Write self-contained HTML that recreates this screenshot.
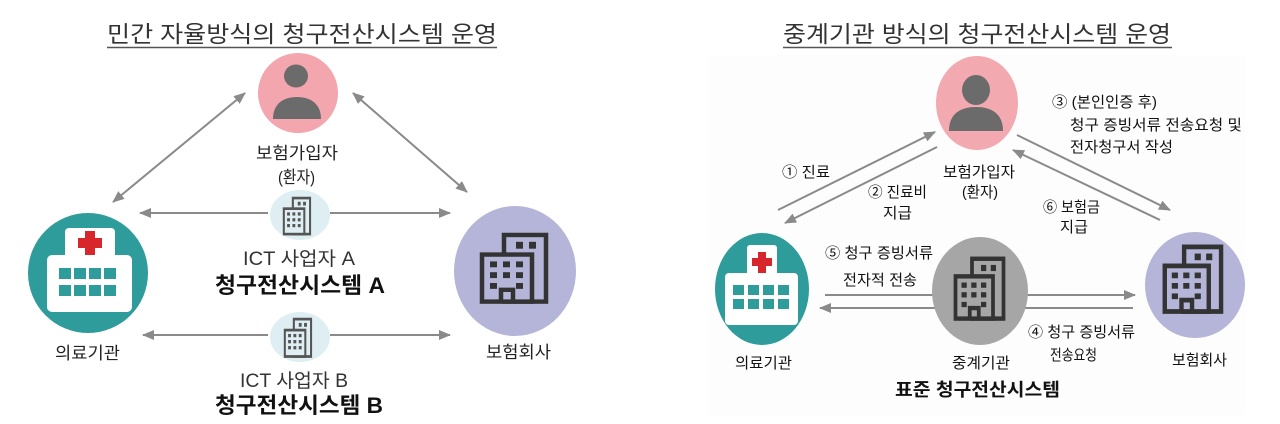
<!DOCTYPE html>
<html><head><meta charset="utf-8"><style>
html,body{margin:0;padding:0;background:#fff;}
svg{display:block;}
text{font-family:"Liberation Sans","Noto Sans CJK KR",sans-serif;}
</style></head><body>
<svg width="1280" height="424" viewBox="0 0 1280 424" xmlns="http://www.w3.org/2000/svg">
<defs>
<marker id="ah" markerWidth="12" markerHeight="10" refX="11" refY="5" orient="auto" markerUnits="userSpaceOnUse"><path d="M0,0 L12,5 L0,10 Z" fill="#8a8a8a"/></marker>
<marker id="as" markerWidth="12" markerHeight="10" refX="11" refY="5" orient="auto-start-reverse" markerUnits="userSpaceOnUse"><path d="M0,0 L12,5 L0,10 Z" fill="#8a8a8a"/></marker>
</defs>

<!-- right panel background -->
<rect x="708" y="55" width="537" height="360" fill="#fdfdfd"/>

<!-- ================= LEFT ================= -->
<text x="107" y="42" font-size="23" fill="#333" textLength="390" lengthAdjust="spacingAndGlyphs">민간 자율방식의 청구전산시스템 운영</text>
<line x1="107" y1="47.5" x2="497" y2="47.5" stroke="#555" stroke-width="1.5"/>

<!-- arrows -->
<g stroke="#8a8a8a" stroke-width="2" fill="none">
<line x1="245" y1="93" x2="113" y2="202" marker-start="url(#as)" marker-end="url(#ah)"/>
<line x1="353" y1="93" x2="467" y2="192" marker-start="url(#as)" marker-end="url(#ah)"/>
<line x1="268" y1="213" x2="140" y2="213" marker-end="url(#ah)"/>
<line x1="330" y1="213" x2="450" y2="213" marker-end="url(#ah)"/>
<line x1="268" y1="335" x2="143" y2="335" marker-end="url(#ah)"/>
<line x1="330" y1="335" x2="450" y2="335" marker-end="url(#ah)"/>
</g>

<!-- person -->
<circle cx="298" cy="93" r="40" fill="#f3a6ae"/>
<ellipse cx="296" cy="76" rx="12" ry="11.5" fill="#6b6b6b"/>
<path d="M273,119 C273,104 283,97 297,97 C311,97 321,104 321,119 Z" fill="#6b6b6b"/>
<text x="256" y="159" font-size="17" fill="#222" textLength="82" lengthAdjust="spacingAndGlyphs">보험가입자</text>
<text x="278" y="183" font-size="17" fill="#222" textLength="37" lengthAdjust="spacingAndGlyphs">(환자)</text>

<!-- hospital left -->
<circle cx="88" cy="273" r="60" fill="#2e9c9a"/>
<rect x="65" y="228" width="50" height="34" rx="4" fill="#fff"/>
<rect x="47" y="255" width="85" height="57" rx="5" fill="#fff"/>
<rect x="85" y="231" width="10" height="24" fill="#d7262c"/>
<rect x="78" y="238" width="24" height="10" fill="#d7262c"/>
<g fill="#2e9c9a">
<rect x="59" y="268" width="12" height="11"/><rect x="74" y="268" width="12" height="11"/><rect x="89" y="268" width="12" height="11"/><rect x="104" y="268" width="12" height="11"/>
<rect x="59" y="285" width="12" height="11"/><rect x="74" y="285" width="12" height="11"/><rect x="89" y="285" width="12" height="11"/><rect x="104" y="285" width="12" height="11"/>
</g>
<text x="55" y="359" font-size="17" fill="#222" textLength="65" lengthAdjust="spacingAndGlyphs">의료기관</text>

<!-- insurer left -->
<ellipse cx="515" cy="271" rx="61" ry="65" fill="#b4b5d8"/>
<g transform="translate(480,233) scale(1,0.98)" stroke="#333" stroke-width="4.5" fill="#b4b5d8">
<rect x="24" y="2" width="42" height="68"/>
<rect x="36" y="9" width="7" height="7" fill="#333" stroke="none"/><rect x="49" y="9" width="7" height="7" fill="#333" stroke="none"/>
<rect x="2" y="22" width="50" height="48"/>
<g fill="#333" stroke="none">
<rect x="10" y="29" width="7" height="6"/><rect x="23" y="29" width="7" height="6"/><rect x="36" y="29" width="7" height="6"/>
<rect x="10" y="40" width="7" height="6"/><rect x="23" y="40" width="7" height="6"/><rect x="36" y="40" width="7" height="6"/>
<rect x="10" y="51" width="7" height="6"/><rect x="36" y="51" width="7" height="6"/>
</g>
<path d="M21,70 V58 H33 V70" fill="none"/>
</g>
<text x="486" y="358" font-size="17" fill="#222" textLength="65" lengthAdjust="spacingAndGlyphs">보험회사</text>

<!-- small ICT icons -->
<ellipse cx="300" cy="215" rx="30" ry="25" fill="#deeef2"/>
<g transform="translate(283,197) scale(0.41,0.53)" stroke="#555" stroke-width="5" fill="#deeef2">
<rect x="24" y="2" width="42" height="68"/>
<rect x="36" y="9" width="7" height="7" fill="#555" stroke="none"/><rect x="49" y="9" width="7" height="7" fill="#555" stroke="none"/>
<rect x="2" y="22" width="50" height="48"/>
<g fill="#555" stroke="none">
<rect x="10" y="29" width="7" height="6"/><rect x="23" y="29" width="7" height="6"/><rect x="36" y="29" width="7" height="6"/>
<rect x="10" y="40" width="7" height="6"/><rect x="23" y="40" width="7" height="6"/><rect x="36" y="40" width="7" height="6"/>
<rect x="10" y="51" width="7" height="6"/><rect x="23" y="51" width="7" height="6"/><rect x="36" y="51" width="7" height="6"/>
</g>
</g>
<ellipse cx="300" cy="337" rx="30" ry="25" fill="#deeef2"/>
<g transform="translate(284,318) scale(0.41,0.55)" stroke="#555" stroke-width="5" fill="#deeef2">
<rect x="24" y="2" width="42" height="68"/>
<rect x="36" y="9" width="7" height="7" fill="#555" stroke="none"/><rect x="49" y="9" width="7" height="7" fill="#555" stroke="none"/>
<rect x="2" y="22" width="50" height="48"/>
<g fill="#555" stroke="none">
<rect x="10" y="29" width="7" height="6"/><rect x="23" y="29" width="7" height="6"/><rect x="36" y="29" width="7" height="6"/>
<rect x="10" y="40" width="7" height="6"/><rect x="23" y="40" width="7" height="6"/><rect x="36" y="40" width="7" height="6"/>
<rect x="10" y="51" width="7" height="6"/><rect x="23" y="51" width="7" height="6"/><rect x="36" y="51" width="7" height="6"/>
</g>
</g>

<text x="243" y="265" font-size="19" fill="#333" textLength="112" lengthAdjust="spacingAndGlyphs">ICT 사업자 A</text>
<text x="215" y="293" font-size="22" font-weight="bold" fill="#111" textLength="170" lengthAdjust="spacingAndGlyphs">청구전산시스템 A</text>
<text x="240" y="387" font-size="19" fill="#333" textLength="108" lengthAdjust="spacingAndGlyphs">ICT 사업자 B</text>
<text x="215" y="413" font-size="22" font-weight="bold" fill="#111" textLength="168" lengthAdjust="spacingAndGlyphs">청구전산시스템 B</text>

<!-- ================= RIGHT ================= -->
<text x="783" y="42" font-size="23" fill="#333" textLength="388" lengthAdjust="spacingAndGlyphs">중계기관 방식의 청구전산시스템 운영</text>
<line x1="783" y1="47.5" x2="1172" y2="47.5" stroke="#555" stroke-width="1.5"/>

<g stroke="#8a8a8a" stroke-width="2" fill="none">
<line x1="778" y1="210" x2="935" y2="132" marker-end="url(#ah)"/>
<line x1="937" y1="147" x2="785" y2="223" marker-end="url(#ah)"/>
<line x1="1017" y1="135" x2="1170" y2="210" marker-end="url(#ah)"/>
<line x1="1160" y1="220" x2="1013" y2="150" marker-end="url(#ah)"/>
<line x1="825" y1="295" x2="1135" y2="295" marker-end="url(#ah)"/>
<line x1="1133" y1="308" x2="820" y2="308" marker-end="url(#ah)"/>
</g>

<!-- person right -->
<ellipse cx="977" cy="103" rx="41" ry="47" fill="#f2a9b0"/>
<ellipse cx="976" cy="90" rx="14" ry="15" fill="#6b6b6b"/>
<path d="M949,131 C949,114 960,107 976,107 C992,107 1003,114 1003,131 Z" fill="#6b6b6b"/>
<text x="943" y="177" font-size="15" fill="#111" textLength="72" lengthAdjust="spacingAndGlyphs">보험가입자</text>
<text x="962" y="197" font-size="15" fill="#111" textLength="36" lengthAdjust="spacingAndGlyphs">(환자)</text>

<!-- hospital right -->
<ellipse cx="762" cy="289" rx="47" ry="56" fill="#2e9c9a"/>
<rect x="747" y="245" width="30" height="34" rx="3" fill="#fff"/>
<rect x="725" y="273" width="73" height="52" rx="4" fill="#fff"/>
<rect x="758" y="252" width="8" height="21" fill="#d7262c"/>
<rect x="752" y="258" width="20" height="8" fill="#d7262c"/>
<g fill="#2e9c9a">
<rect x="733" y="285" width="11" height="10"/><rect x="748" y="285" width="11" height="10"/><rect x="763" y="285" width="11" height="10"/><rect x="778" y="285" width="11" height="10"/>
<rect x="733" y="299" width="11" height="10"/><rect x="748" y="299" width="11" height="10"/><rect x="763" y="299" width="11" height="10"/><rect x="778" y="299" width="11" height="10"/>
</g>

<!-- mediator -->
<ellipse cx="980" cy="291" rx="48" ry="54" fill="#a6a6a6"/>
<g transform="translate(954,257) scale(0.75,0.88)" stroke="#333" stroke-width="5" fill="#a6a6a6">
<rect x="24" y="2" width="42" height="68"/>
<rect x="36" y="9" width="7" height="7" fill="#333" stroke="none"/><rect x="49" y="9" width="7" height="7" fill="#333" stroke="none"/>
<rect x="2" y="22" width="50" height="48"/>
<g fill="#333" stroke="none">
<rect x="10" y="29" width="7" height="6"/><rect x="23" y="29" width="7" height="6"/><rect x="36" y="29" width="7" height="6"/>
<rect x="10" y="40" width="7" height="6"/><rect x="23" y="40" width="7" height="6"/><rect x="36" y="40" width="7" height="6"/>
<rect x="10" y="51" width="7" height="6"/><rect x="36" y="51" width="7" height="6"/>
</g>
<path d="M21,70 V58 H33 V70" fill="none"/>
</g>

<!-- insurer right -->
<ellipse cx="1195" cy="285" rx="50" ry="53" fill="#b4b5d8"/>
<g transform="translate(1163,245) scale(0.88,0.95)" stroke="#333" stroke-width="5" fill="#b4b5d8">
<rect x="24" y="2" width="42" height="68"/>
<rect x="36" y="9" width="7" height="7" fill="#333" stroke="none"/><rect x="49" y="9" width="7" height="7" fill="#333" stroke="none"/>
<rect x="2" y="22" width="50" height="48"/>
<g fill="#333" stroke="none">
<rect x="10" y="29" width="7" height="6"/><rect x="23" y="29" width="7" height="6"/><rect x="36" y="29" width="7" height="6"/>
<rect x="10" y="40" width="7" height="6"/><rect x="23" y="40" width="7" height="6"/><rect x="36" y="40" width="7" height="6"/>
<rect x="10" y="51" width="7" height="6"/><rect x="36" y="51" width="7" height="6"/>
</g>
<path d="M21,70 V58 H33 V70" fill="none"/>
</g>

<!-- right labels -->
<g font-size="15" fill="#111">
<text x="782" y="177" textLength="48" lengthAdjust="spacingAndGlyphs">① 진료</text>
<text x="868" y="197" textLength="59" lengthAdjust="spacingAndGlyphs">② 진료비</text>
<text x="883" y="218" textLength="29" lengthAdjust="spacingAndGlyphs">지급</text>
<text x="1052" y="107" textLength="105" lengthAdjust="spacingAndGlyphs">③ (본인인증 후)</text>
<text x="1070" y="130" textLength="172" lengthAdjust="spacingAndGlyphs">청구 증빙서류 전송요청 및</text>
<text x="1070" y="152" textLength="103" lengthAdjust="spacingAndGlyphs">전자청구서 작성</text>
<text x="1043" y="212" textLength="57" lengthAdjust="spacingAndGlyphs">⑥ 보험금</text>
<text x="1060" y="232" textLength="28" lengthAdjust="spacingAndGlyphs">지급</text>
<text x="825" y="258" textLength="108" lengthAdjust="spacingAndGlyphs">⑤ 청구 증빙서류</text>
<text x="843" y="285" textLength="74" lengthAdjust="spacingAndGlyphs">전자적 전송</text>
<text x="1028" y="337" textLength="107" lengthAdjust="spacingAndGlyphs">④ 청구 증빙서류</text>
<text x="1050" y="360" textLength="47" lengthAdjust="spacingAndGlyphs">전송요청</text>
<text x="735" y="368" textLength="57" lengthAdjust="spacingAndGlyphs">의료기관</text>
<text x="952" y="368" textLength="58" lengthAdjust="spacingAndGlyphs">중계기관</text>
<text x="1172" y="365" textLength="55" lengthAdjust="spacingAndGlyphs">보험회사</text>
</g>
<text x="895" y="396" font-size="18" font-weight="bold" fill="#111" textLength="165" lengthAdjust="spacingAndGlyphs">표준 청구전산시스템</text>
</svg>
</body></html>
